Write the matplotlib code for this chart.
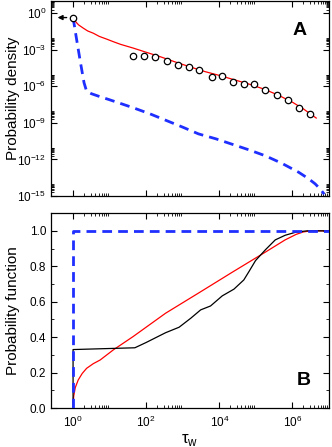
import matplotlib
matplotlib.use("Agg")
import matplotlib.pyplot as plt
import numpy as np
from matplotlib.ticker import NullFormatter

plt.rcParams['font.family'] = ['Liberation Sans', 'DejaVu Sans']
plt.rcParams['mathtext.fontset'] = 'custom'
plt.rcParams['mathtext.rm'] = 'Liberation Sans'

# Panel A: probability density (log10 values)
circ_logx = [0.0, 1.65, 1.95, 2.24, 2.58, 2.86, 3.16, 3.45, 3.79, 4.07, 4.38,
             4.67, 4.96, 5.26, 5.59, 5.87, 6.18, 6.47]
circ_logy = [-0.35, -3.48, -3.48, -3.56, -3.94, -4.27, -4.38, -4.62, -5.19, -5.17,
             -5.66, -5.82, -5.79, -6.31, -6.72, -7.12, -7.80, -8.23]

red_a_logx = [0.0, 0.03, 0.08, 0.15, 0.28, 0.4, 0.55, 0.72, 0.92, 1.1, 1.3, 1.65,
              2.0, 2.37, 2.8, 3.2, 3.6, 4.0, 4.4, 4.8, 5.2, 5.6, 6.0, 6.3, 6.65]
red_a_logy = [-0.35, -0.5, -0.72, -0.95, -1.22, -1.45, -1.63, -1.9, -2.12, -2.33,
              -2.55, -2.86, -3.2, -3.55, -4.0, -4.4, -4.78, -5.1, -5.45, -5.8,
              -6.2, -6.7, -7.3, -7.85, -8.6]

blue_a_logx = [0.0, 0.1, 0.2, 0.3, 0.37, 0.5, 0.74, 1.0, 1.64, 2.1, 2.55, 3.0, 3.43,
               3.9, 4.35, 4.8, 5.26, 5.7, 6.17, 6.45, 6.62, 6.75, 6.87]
blue_a_logy = [-0.35, -2.2, -4.0, -5.7, -6.4, -6.6, -6.85, -7.1, -7.75, -8.25, -8.8,
               -9.35, -9.9, -10.3, -10.75, -11.2, -11.7, -12.3, -13.05, -13.6,
               -14.0, -14.4, -14.85]

# Panel B: probability function
blue_b_x = [1.0, 1.0, 1e7]
blue_b_y = [0.0, 1.0, 1.0]

black_b_logx = [0.0, 0.0, 1.69, 2.0, 2.53, 2.9, 3.22, 3.49, 3.76, 4.08, 4.4, 4.67,
                4.81, 4.99, 5.26, 5.53, 5.8, 6.1, 6.4, 7.0]
black_b_y = [0.0, 0.33, 0.34, 0.37, 0.425, 0.456, 0.507, 0.554, 0.576, 0.633, 0.671,
             0.723, 0.77, 0.832, 0.893, 0.949, 0.975, 0.993, 1.0, 1.0]

red_b_logx = [0.0, 0.02, 0.06, 0.14, 0.25, 0.37, 0.55, 0.74, 1.1, 1.64, 2.53, 3.44,
              4.35, 5.26, 5.8, 6.1, 6.3, 6.5, 7.0]
red_b_y = [0.03, 0.07, 0.115, 0.158, 0.195, 0.224, 0.25, 0.271, 0.328, 0.403, 0.535,
           0.65, 0.766, 0.88, 0.949, 0.98, 0.994, 1.0, 1.0]

x_major = [1e0, 1e2, 1e4, 1e6]
x_minor = [k * 10.0 ** e for e in (0, 2, 4, 6) for k in range(2, 10)]
ya_major = [10.0 ** e for e in range(-15, 1, 3)]
ya_minor = [k * 10.0 ** e for e in range(-15, 1, 3) for k in range(2, 10)]


def style_axis(ax):
    ax.tick_params(which='both', direction='in', top=True, right=True, labelsize=8.5)
    ax.tick_params(which='major', length=4, width=0.8)
    ax.tick_params(which='minor', length=2.2, width=0.6)
    for s in ax.spines.values():
        s.set_linewidth(0.9)


fig = plt.figure(figsize=(3.32, 4.47), dpi=100)
axA = fig.add_axes([0.154, 0.5615, 0.837, 0.436])
axB = fig.add_axes([0.154, 0.0872, 0.837, 0.436])

# Panel A
axA.plot(10 ** np.array(blue_a_logx), 10 ** np.array(blue_a_logy), color='#1f2fff',
         lw=2.0, ls=(0, (3.5, 2.2)))
axA.plot(10 ** np.array(red_a_logx), 10 ** np.array(red_a_logy), color='red', lw=0.9)
axA.plot(10 ** np.array(circ_logx), 10 ** np.array(circ_logy), 'o', mfc='white',
         mec='black', mew=0.9, ms=4.6, zorder=5)
axA.annotate('', xy=(10 ** -0.5, 10 ** circ_logy[0]), xytext=(10 ** -0.1, 10 ** circ_logy[0]),
             arrowprops=dict(arrowstyle='-|>', color='black', lw=1.0, mutation_scale=7))
axA.set_xscale('log')
axA.set_yscale('log')
axA.set_xlim(10 ** -0.6, 1e7)
axA.set_ylim(1e-15, 1e1)
axA.set_xticks(x_major)
axA.set_xticks(x_minor, minor=True)
axA.set_yticks(ya_major)
axA.set_yticks(ya_minor, minor=True)
axA.xaxis.set_major_formatter(NullFormatter())
axA.xaxis.set_minor_formatter(NullFormatter())
axA.yaxis.set_minor_formatter(NullFormatter())
style_axis(axA)
axA.set_ylabel('Probability density', fontsize=11)
axA.yaxis.set_label_coords(-0.112, 0.5)
axA.text(0.895, 0.85, 'A', transform=axA.transAxes, fontsize=14, fontweight='bold',
         ha='center', va='center')

# Panel B
axB.plot(blue_b_x, blue_b_y, color='#1f2fff', lw=2.0, ls=(0, (3.5, 2.2)), zorder=4)
axB.plot(10 ** np.array(red_b_logx), red_b_y, color='red', lw=0.9)
axB.plot(10 ** np.array(black_b_logx), black_b_y, color='black', lw=0.9)
axB.set_xscale('log')
axB.set_xlim(10 ** -0.6, 1e7)
axB.set_ylim(0, 1.1)
axB.set_xticks(x_major)
axB.set_xticks(x_minor, minor=True)
axB.xaxis.set_minor_formatter(NullFormatter())
axB.set_yticks([0.0, 0.2, 0.4, 0.6, 0.8, 1.0])
axB.set_yticklabels(['0.0', '0.2', '0.4', '0.6', '0.8', '1.0'])
axB.set_yticks(np.arange(0.1, 1.1, 0.2), minor=True)
style_axis(axB)
axB.tick_params(axis='x', pad=5)
axB.set_ylabel('Probability function', fontsize=11)
axB.yaxis.set_label_coords(-0.112, 0.5)
axB.set_xlabel(r'τ$_\mathregular{w}$', fontsize=12, labelpad=1)
axB.text(0.91, 0.14, 'B', transform=axB.transAxes, fontsize=14, fontweight='bold',
         ha='center', va='center')

plt.savefig('out.png', dpi=100)
